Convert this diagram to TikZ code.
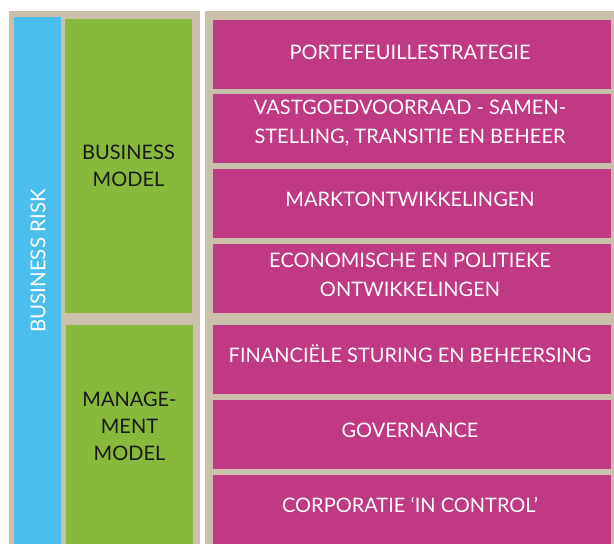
\documentclass[tikz,border=0pt]{standalone}
\usepackage{fontspec}
\setmainfont{Lato}
\definecolor{beige}{RGB}{203,192,172}
\definecolor{riskblue}{RGB}{76,190,238}
\definecolor{modgreen}{RGB}{136,185,61}
\definecolor{magbg}{RGB}{192,57,131}
\tikzset{
  panel/.style={fill=beige, draw=none},
  magbox/.style={fill=magbg, draw=none, minimum width=398pt, minimum height=69pt, inner sep=0pt, anchor=north west},
  magtext/.style={text=white, align=center, font=\fontsize{20}{29}\selectfont, inner sep=0pt},
  greentext/.style={text=black!90, align=center, font=\fontsize{20}{27}\selectfont, inner sep=0pt},
}
\begin{document}
\begin{tikzpicture}[x=1pt,y=-1pt]
\useasboundingbox (0,0) rectangle (614,544);
\fill[white] (0,0) rectangle (614,544);
% panels
\fill[panel] (9,11) rectangle (200,544);
\fill[panel] (205,11) rectangle (614,544);
% blue bar
\node[fill=riskblue, draw=none, inner sep=0pt, minimum width=47pt, minimum height=527pt, anchor=north west] (risk) at (14,17) {};
\node[text=white, rotate=90, font=\fontsize{20.5}{24}\selectfont, inner sep=0pt] (risklbl) at (38,261) {BUSINESS RISK};
% green boxes
\node[fill=modgreen, draw=none, inner sep=0pt, minimum width=127pt, minimum height=294pt, anchor=north west] (bm) at (65,19) {};
\node[fill=modgreen, draw=none, inner sep=0pt, minimum width=127pt, minimum height=219pt, anchor=north west] (mm) at (66,325) {};
\node[greentext] (bmlbl) at (128.5,166) {BUSINESS\\MODEL};
\node[greentext] (mmlbl) at (129.5,426) {MANAGE-\\MENT\\MODEL};
% magenta boxes
\node[magbox] (b1) at (213,20) {};
\node[magbox] (b2) at (213,94) {};
\node[magbox] (b3) at (213,169) {};
\node[magbox] (b4) at (213,244) {};
\node[magbox] (b5) at (213,325) {};
\node[magbox] (b6) at (213,400) {};
\node[magbox] (b7) at (213,475) {};
\node[magtext] (t1) at (410,52) {PORTEFEUILLESTRATEGIE};
\node[magtext] (t2) at (410,123) {VASTGOEDVOORRAAD - SAMEN-\\STELLING, TRANSITIE EN BEHEER};
\node[magtext] (t3) at (410,199) {MARKTONTWIKKELINGEN};
\node[magtext] (t4) at (410,275) {ECONOMISCHE EN POLITIEKE\\ONTWIKKELINGEN};
\node[magtext] (t5) at (410,354) {FINANCIËLE STURING EN BEHEERSING};
\node[magtext] (t6) at (410,430) {GOVERNANCE};
\node[magtext] (t7) at (410,505) {CORPORATIE ‘IN CONTROL’};
\end{tikzpicture}
\end{document}
